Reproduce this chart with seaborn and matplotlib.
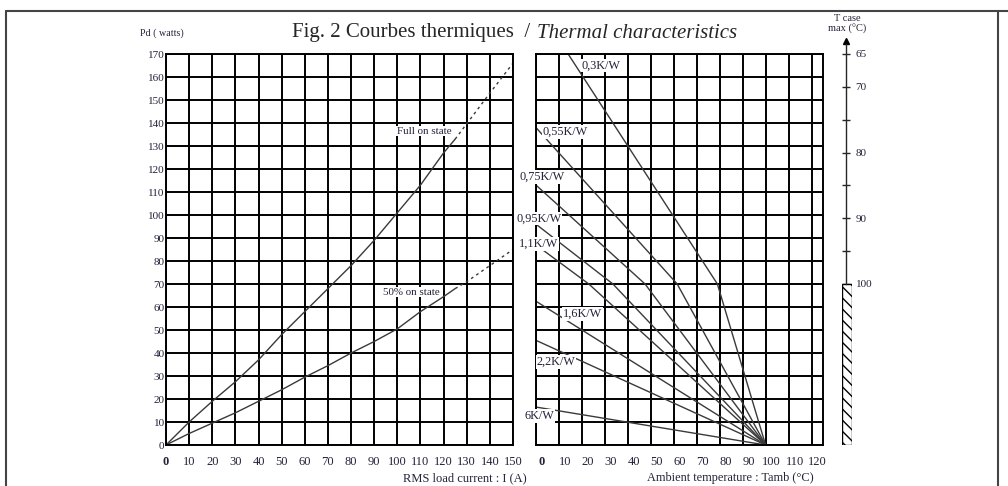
import matplotlib
matplotlib.use('Agg')
import matplotlib.pyplot as plt
import matplotlib.transforms as mtransforms
from matplotlib.lines import Line2D
import seaborn as sns

# --- Data ---
# Left panel: dissipated power vs RMS load current
full_i = [0, 10, 20, 30, 40, 50, 60, 70, 80, 90, 100, 110, 120, 125]
full_pd = [0, 10, 19, 27.5, 37, 48, 58, 68, 78, 89, 101, 113, 127, 133]
full_i_ext = [125, 140, 150]
full_pd_ext = [133, 153, 166]

half_i = [0, 10, 20, 30, 40, 50, 60, 70, 80, 90, 100, 110, 120, 125]
half_pd = [0, 5, 9.5, 14, 19, 24, 29.5, 34.5, 40, 45, 50.5, 58, 64.5, 68]
half_i_ext = [125, 130, 140, 150]
half_pd_ext = [68, 71, 78, 85]

# Right panel: thermal resistance lines (Tamb, Pd)
rth_labels = ['0,3K/W', '0,55K/W', '0,75K/W', '0,95K/W', '1,1K/W', '1,6K/W', '2,2K/W', '6K/W']
rth_tamb = [[14, 79, 100], [0, 61.5, 100], [0, 47.5, 100], [0, 33.5, 100],
            [0, 23, 100], [0, 100], [0, 100], [0, 100]]
rth_pd = [[170, 70, 0], [138, 70, 0], [113, 70, 0], [96, 70, 0],
          [87, 70, 0], [62.5, 0], [45.5, 0], [16.5, 0]]
rth_label_x = [20, 3, -7, -8.7, -7.4, 11.7, 0.3, -5.2]
rth_label_y = [165, 136, 116.5, 98.5, 87.5, 57, 36, 12.5]

# T case max scale
tcase_ticks = [65, 70, 75, 80, 85, 90, 95, 100]
tcase_labels = ['65', '70', '', '80', '', '90', '', '100']
tcase_limit = 100
pd_at_limit = 70

pd_max = 170
i_max = 150
tamb_max = 125

# --- Figure ---
sns.set_style("white")
plt.rcParams['font.family'] = ['Liberation Serif', 'DejaVu Serif']
W, H = 1008, 486
fig = plt.figure(figsize=(W / 100, H / 100), dpi=100)

y0, hgt = (H - 445) / H, 391 / H
ax1 = fig.add_axes([166 / W, y0, 347 / W, hgt])
ax2 = fig.add_axes([536 / W, y0, 287 / W, hgt])
ax3 = fig.add_axes([842 / W, y0, 10 / W, hgt])

tick_col = '#22223a'
curve_col = '#3a3a3a'

for ax in (ax1, ax2):
    ax.set_ylim(0, pd_max)
    ax.set_yticks(range(0, pd_max + 1, 10))
    ax.grid(True, color='black', lw=1.4)
    for s in ax.spines.values():
        s.set_color('black')
        s.set_linewidth(1.4)
    ax.tick_params(axis='both', direction='out', length=3, width=1.4, color='black',
                   labelcolor=tick_col)
    ax.tick_params(axis='x', pad=5, labelsize=9)
    ax.tick_params(axis='y', labelsize=8)
    ax.set_axisbelow(True)

# --- Left panel ---
ax1.set_xlim(0, i_max)
ax1.set_xticks(range(0, i_max + 1, 10))
ax1.tick_params(axis='y', pad=-2)
sns.lineplot(x=full_i, y=full_pd, ax=ax1, color=curve_col, lw=1.0, sort=False)
sns.lineplot(x=full_i_ext, y=full_pd_ext, ax=ax1, color=curve_col, lw=1.0, sort=False,
             linestyle=(0, (2, 2.5)))
sns.lineplot(x=half_i, y=half_pd, ax=ax1, color=curve_col, lw=1.0, sort=False)
sns.lineplot(x=half_i_ext, y=half_pd_ext, ax=ax1, color=curve_col, lw=1.0, sort=False,
             linestyle=(0, (2, 2.5)))
box = dict(facecolor='white', edgecolor='none', pad=0.6)
ax1.text(100, 136.5, 'Full on state', fontsize=7.9, color=tick_col, va='center', bbox=box)
ax1.text(94, 66.5, '50% on state', fontsize=7.9, color=tick_col, va='center', bbox=box)
ax1.set_xlabel('')
ax1.set_ylabel('')
ax1.get_xticklabels()[0].set_fontweight('bold')

# --- Right panel ---
ax2.set_xlim(0, tamb_max)
ax2.set_xticks(range(0, 121, 10))
ax2.set_yticklabels([])
for tx, ty in zip(rth_tamb, rth_pd):
    sns.lineplot(x=tx, y=ty, ax=ax2, color=curve_col, lw=1.0, sort=False)
for lab, lx, ly in zip(rth_labels, rth_label_x, rth_label_y):
    ax2.text(lx, ly, lab, fontsize=8.8, color=tick_col, va='center', ha='left',
             bbox=box, clip_on=False, zorder=5)
ax2.set_xlabel('')
ax2.set_ylabel('')
ax2.get_xticklabels()[0].set_fontweight('bold')
shift = mtransforms.ScaledTranslation(6 / 100, 0, fig.dpi_scale_trans)
for lbl in ax2.get_xticklabels():
    lbl.set_transform(lbl.get_transform() + shift)

# --- T case max scale ---
t_bottom = tcase_limit + pd_at_limit * (tcase_limit - tcase_ticks[0]) / (pd_max - pd_at_limit)
ax3.set_ylim(t_bottom, tcase_ticks[0])
ax3.set_xlim(0, 1)
for s in ('left', 'top', 'bottom'):
    ax3.spines[s].set_visible(False)
ax3.spines['right'].set_position(('axes', 0.4))
ax3.spines['right'].set_bounds(tcase_ticks[0] - 1.5, tcase_limit)
ax3.spines['right'].set_linewidth(1.0)
ax3.yaxis.tick_right()
ax3.set_yticks(tcase_ticks)
ax3.set_yticklabels(tcase_labels)
ax3.set_xticks([])
ax3.tick_params(axis='y', direction='inout', length=6, width=1.0, pad=4,
                labelsize=8, labelcolor=tick_col)
ax3.axhspan(tcase_limit, t_bottom, facecolor='white', edgecolor='black', lw=1.0,
            hatch='\\\\\\')
ax3.plot([0.4], [tcase_ticks[0] - 2], marker='^', ms=4, color='black', clip_on=False)
ax3.patch.set_alpha(0)

# --- Texts ---
fig.text(530 / W, 1 - 33 / H, 'Fig. 2 Courbes thermiques  /', fontsize=15, ha='right', va='center')
fig.text(537 / W, 1 - 33 / H, 'Thermal characteristics', fontsize=15, style='italic',
         ha='left', va='center')
fig.text(162 / W, 1 - 33 / H, 'Pd ( watts)', fontsize=7.2, color=tick_col, ha='center', va='center')
fig.text(847 / W, 1 - 24 / H, 'T case\nmax (°C)', fontsize=7.5, color=tick_col, ha='center',
         va='center', linespacing=1.25)
fig.text(465 / W, 1 - 478 / H, 'RMS load current : I (A)', fontsize=9, color=tick_col,
         ha='center', va='center')
fig.text(730 / W, 1 - 478 / H, 'Ambient temperature : Tamb (°C)', fontsize=8.8, color=tick_col,
         ha='center', va='center')

# --- Frame ---
frame_kw = dict(color='#444444', lw=1.5, transform=fig.transFigure)
fig.add_artist(Line2D([6 / W, 1], [1 - 11 / H, 1 - 11 / H], **frame_kw))
fig.add_artist(Line2D([6 / W, 6 / W], [0, 1 - 11 / H], **frame_kw))
fig.add_artist(Line2D([998 / W, 998 / W], [0, 1 - 11 / H], **frame_kw))

fig.savefig('out.png', dpi=100, facecolor='white')
plt.close(fig)
